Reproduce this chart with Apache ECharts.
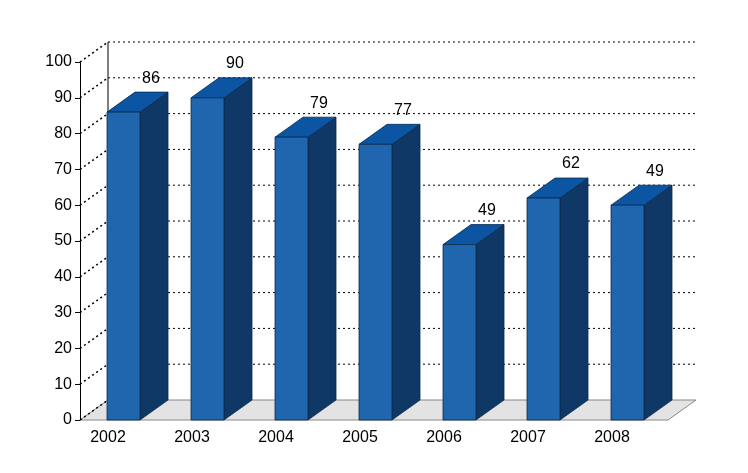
<!DOCTYPE html>
<html><head><meta charset="utf-8">
<script src="https://cdn.jsdelivr.net/npm/echarts@6/dist/echarts.min.js"></script>
<style>html,body{margin:0;background:#fff}#c{width:748px;height:473px}</style>
</head><body><div id="c"></div>
<script>
const categories = ['2002','2003','2004','2005','2006','2007','2008'];
const values = [86, 90, 79, 77, 49, 62, 60];
const labels = ['86','90','79','77','49','62','49'];
const yTicks = [0,10,20,30,40,50,60,70,80,90,100];
const DX = 28, DY = -20;
const chart = echarts.init(document.getElementById('c'));
chart.setOption({
  animation:false,
  grid:{left:80,right:80,top:62,bottom:53},
  xAxis:{type:'category',data:categories,axisLine:{show:false},axisTick:{show:false},
    axisLabel:{color:'#000',fontSize:16,fontFamily:'Liberation Sans',padding:[0,28,0,0],margin:10}},
  yAxis:{type:'value',min:0,max:100,interval:10,splitLine:{show:false},
    axisLine:{show:true,lineStyle:{color:'#000',width:1}},axisTick:{show:true,length:5,lineStyle:{color:'#000'}},
    axisLabel:{color:'#000',fontSize:16,fontFamily:'Liberation Sans',margin:8}},
  series:[
  {type:'custom',z:1,data:[0],renderItem:(p,api)=>{
     const a=api.coord([0,0]); const s=api.size([1,0]);
     const x0=a[0]-s[0]/2, x1=x0+s[0]*7, y=a[1];
     return {type:'group',children:[
       {type:'polygon',shape:{points:[[x0,y],[x1,y],[x1+DX,y+DY],[x0+DX,y+DY]]},style:{fill:'#e3e3e3',stroke:'#888',lineWidth:1}},
       {type:'line',shape:{x1:x0+DX,y1:y+DY,x2:x0+DX,y2:api.coord([0,100])[1]+DY},style:{stroke:'#000',lineWidth:1}}
     ]};
  }},
  {type:'custom',z:2,data:yTicks.map(v=>[v]),renderItem:(p,api)=>{
     const v=api.value(0); const a=api.coord([0,v]); const s=api.size([1,0]);
     const x0=a[0]-s[0]/2, x1=x0+s[0]*7, y=a[1];
     const ch=[{type:'line',shape:{x1:x0,y1:y,x2:x0+DX,y2:y+DY},style:{stroke:'#000',lineWidth:1.5,lineDash:[2,3]}}];
     if(v>0) ch.push({type:'line',shape:{x1:x0+DX,y1:y+DY,x2:x1+DX,y2:y+DY},style:{stroke:'#000',lineWidth:1,lineDash:[2,3]}});
     return {type:'group',children:ch};
  }},
  {type:'custom',z:3,data:values.map((v,i)=>[i,v]),renderItem:(p,api)=>{
     const i=api.value(0), v=api.value(1);
     const t=api.coord([i,v]), b=api.coord([i,0]);
     const l=t[0]-15, r=t[0]+18;
     return {type:'group',children:[
       {type:'polygon',shape:{points:[[r,b[1]],[r,t[1]],[r+DX,t[1]+DY],[r+DX,b[1]+DY]]},style:{fill:'#0f3866',stroke:'#0a2a4d',lineWidth:0.8}},
       {type:'polygon',shape:{points:[[l,t[1]],[r,t[1]],[r+DX,t[1]+DY],[l+DX,t[1]+DY]]},style:{fill:'#0b55a3',stroke:'#0a2a4d',lineWidth:0.8}},
       {type:'rect',shape:{x:l,y:t[1],width:r-l,height:b[1]-t[1]},style:{fill:'#1f66ae',stroke:'#0a2a4d',lineWidth:0.8}},
       {type:'text',style:{text:labels[i],x:t[0]+29,y:t[1]+DY-6,align:'center',verticalAlign:'bottom',fontSize:16,fontFamily:'Liberation Sans',fill:'#000'}}
     ]};
  }}
  ]
});
</script></body></html>
